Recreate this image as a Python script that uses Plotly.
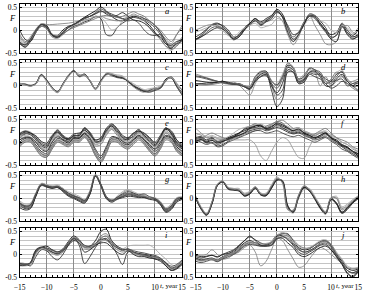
import plotly.graph_objects as go

years = list(range(-15, 16))
x_ticks = [-15, -10, -5, 0, 5, 10, 15]
y_ticks = [-0.5, 0, 0.5]
y_tick_text = ["-0.5", "0", "0.5"]
panel_letters = ["a", "b", "c", "d", "e", "f", "g", "h", "i", "j"]

a_lines = [
    [-0.25,-0.33,-0.2,0.0,0.12,0.1,-0.1,-0.12,0.0,0.08,0.12,0.2,0.28,0.35,0.42,0.5,0.42,0.3,0.22,0.2,0.25,0.3,0.27,0.2,0.1,-0.05,-0.2,-0.35,-0.4,-0.28,-0.2],
    [-0.3,-0.36,-0.22,-0.02,0.1,0.08,-0.12,-0.15,-0.05,0.05,0.1,0.18,0.25,0.3,0.35,0.4,0.38,0.32,0.28,0.25,0.27,0.28,0.25,0.22,0.15,0.05,-0.1,-0.3,-0.38,-0.3,-0.18],
    [-0.15,-0.28,-0.15,0.02,0.14,0.12,0.12,0.13,0.14,0.15,0.17,0.2,0.22,0.25,0.28,0.3,0.25,0.22,0.2,0.22,0.28,0.35,0.3,0.25,0.18,0.1,-0.05,-0.2,-0.3,-0.1,0.1],
    [0.0,-0.2,-0.25,-0.05,0.08,0.05,-0.1,-0.16,-0.08,0.0,0.08,0.12,0.18,0.22,0.3,0.25,-0.1,-0.12,0.05,0.15,0.22,0.28,0.3,0.25,0.2,0.1,-0.05,-0.25,-0.42,-0.35,-0.2],
    [-0.2,-0.3,-0.18,0.0,0.1,0.06,-0.08,-0.12,-0.05,0.05,0.1,0.15,0.2,0.25,0.3,0.28,0.15,0.0,0.05,0.2,0.3,0.32,0.3,0.2,0.05,-0.1,-0.2,-0.35,-0.45,-0.3,-0.15],
    [-0.28,-0.38,-0.25,-0.05,0.12,0.05,-0.12,-0.16,-0.06,0.06,0.12,0.2,0.27,0.3,0.36,0.42,0.35,0.3,0.32,0.38,0.3,0.22,0.2,0.15,0.05,-0.08,-0.15,-0.3,-0.33,-0.25,-0.22],
    [-0.1,-0.25,-0.2,-0.05,0.08,0.02,-0.15,-0.18,-0.1,0.0,0.05,0.1,0.15,0.2,0.25,0.3,0.32,0.3,0.28,0.3,0.35,0.4,0.35,0.3,0.2,0.1,0.0,-0.15,-0.25,-0.1,0.05],
    [-0.3,-0.32,-0.2,0.0,0.12,0.08,-0.1,-0.14,-0.04,0.06,0.12,0.18,0.25,0.3,0.38,0.46,0.4,0.35,0.3,0.25,0.2,0.22,0.15,0.0,-0.1,-0.12,-0.1,-0.25,-0.35,-0.3,-0.25],
]
b_lines = [
    [-0.2,-0.12,0.0,0.12,0.15,0.08,-0.05,-0.18,-0.1,0.05,0.15,0.25,0.12,0.2,0.3,0.45,0.35,0.05,-0.2,-0.1,0.15,0.32,0.3,0.15,0.0,-0.1,-0.05,0.12,-0.05,-0.15,-0.1],
    [-0.22,-0.15,-0.05,0.05,0.08,0.05,-0.05,-0.2,-0.15,0.0,0.12,0.22,0.15,0.22,0.28,0.38,0.3,0.0,-0.15,-0.05,0.18,0.3,0.25,0.1,-0.05,-0.18,-0.1,0.1,-0.08,-0.18,-0.15],
    [0.0,0.05,0.1,0.12,0.1,0.02,-0.1,-0.22,-0.12,0.02,0.1,0.2,0.15,0.18,0.22,0.3,0.2,-0.1,-0.32,-0.15,0.15,0.32,0.1,-0.1,-0.3,-0.32,-0.25,0.05,0.1,-0.05,-0.1],
    [-0.15,-0.08,0.02,0.1,0.13,0.1,0.0,-0.15,-0.12,0.02,0.12,0.2,0.1,0.18,0.25,0.4,0.3,0.1,-0.1,-0.05,0.12,0.35,0.32,0.2,0.05,-0.15,-0.12,0.15,0.0,-0.12,0.0],
    [-0.05,0.0,0.05,0.1,0.05,-0.02,-0.12,-0.15,-0.05,0.05,0.1,0.15,0.05,0.08,0.12,0.25,0.2,0.0,-0.25,-0.1,0.1,0.25,0.28,0.2,0.15,0.0,-0.05,0.1,0.05,-0.08,0.05],
    [-0.2,-0.15,-0.08,0.0,0.05,0.02,-0.08,-0.2,-0.15,0.0,0.15,0.25,0.18,0.25,0.32,0.42,0.28,-0.05,-0.25,-0.1,0.12,0.3,0.28,0.12,-0.02,-0.2,-0.25,0.08,-0.1,-0.2,-0.12],
]
c_lines = [
    [0.05,0.03,0.0,0.05,0.24,0.12,-0.05,-0.14,0.05,0.22,0.32,0.22,0.25,0.1,-0.07,0.1,0.25,0.25,0.2,0.18,0.1,0.0,-0.08,-0.12,-0.1,-0.05,-0.05,0.15,0.18,0.0,-0.15],
    [0.03,0.02,0.0,0.04,0.22,0.13,-0.03,-0.13,0.03,0.2,0.34,0.2,0.23,0.12,-0.06,0.12,0.26,0.22,0.18,0.16,0.12,0.02,-0.05,-0.1,-0.12,-0.08,-0.02,0.12,0.2,0.05,-0.1],
    [0.06,0.04,0.02,0.05,0.23,0.1,-0.06,-0.15,0.02,0.24,0.3,0.25,0.22,0.1,-0.08,0.08,0.28,0.27,0.22,0.2,0.08,-0.02,-0.1,-0.14,-0.08,-0.06,-0.05,0.1,0.2,0.02,-0.18],
    [0.02,0.04,0.0,0.06,0.25,0.12,-0.04,-0.12,0.04,0.22,0.33,0.21,0.26,0.11,-0.05,0.11,0.25,0.24,0.19,0.17,0.1,0.0,-0.06,-0.12,-0.14,-0.1,-0.05,0.12,0.17,-0.02,-0.2],
    [0.04,0.02,-0.01,0.04,0.22,0.1,-0.05,-0.14,0.03,0.21,0.3,0.23,0.24,0.12,-0.06,0.09,0.23,0.26,0.24,0.22,0.12,0.05,-0.02,-0.08,-0.06,-0.04,0.0,0.12,0.18,0.06,-0.08],
]
d_lines = [
    [0.05,0.04,0.03,0.05,0.08,0.1,0.05,0.03,0.05,0.0,-0.05,0.2,0.3,0.32,0.1,0.02,0.2,0.45,0.4,0.15,0.2,0.38,0.35,0.25,0.05,0.1,0.25,0.3,0.1,0.0,-0.1],
    [0.2,0.18,0.15,0.12,0.1,0.08,0.06,0.05,0.03,0.0,-0.02,0.15,0.28,0.3,0.05,-0.05,0.15,0.5,0.4,0.1,0.15,0.4,0.35,0.3,0.1,0.05,0.2,0.32,0.15,0.05,0.05],
    [0.26,0.22,0.18,0.14,0.1,0.06,0.04,0.08,0.02,-0.1,-0.2,0.05,0.22,0.25,0.0,-0.3,-0.2,0.35,0.35,0.05,0.1,0.3,0.28,0.0,0.2,0.0,0.1,0.2,0.1,0.1,0.15],
    [0.05,0.05,0.06,0.07,0.08,0.1,0.08,0.05,0.02,-0.02,-0.08,0.1,0.2,0.25,-0.1,-0.45,-0.3,0.3,0.3,0.05,0.08,0.25,0.2,0.15,0.05,-0.05,0.0,0.1,0.05,0.0,0.1],
    [0.04,0.03,0.02,0.04,0.06,0.08,0.04,0.02,0.04,0.0,-0.04,0.18,0.28,0.3,0.08,0.05,0.25,0.48,0.42,0.12,0.18,0.4,0.32,0.28,0.08,0.05,0.28,0.35,0.12,-0.02,-0.08],
    [0.12,0.1,0.08,0.07,0.08,0.1,0.06,0.04,0.03,-0.02,-0.06,0.12,0.25,0.28,0.0,-0.15,0.05,0.4,0.35,0.08,0.12,0.3,0.32,0.2,0.0,0.0,0.15,0.25,0.1,0.0,0.0],
    [0.03,0.02,0.02,0.03,0.05,0.07,0.05,0.04,0.03,0.0,0.0,0.2,0.32,0.3,0.12,0.0,0.2,0.42,0.35,0.15,0.25,0.35,0.3,0.2,0.05,0.15,0.3,0.22,0.05,-0.05,-0.12],
    [0.22,0.2,0.17,0.13,0.1,0.07,0.05,0.03,0.02,-0.02,-0.05,0.1,0.2,0.22,0.05,-0.2,-0.1,0.35,0.3,0.1,0.15,0.28,0.25,0.25,0.15,0.1,0.12,0.15,0.0,0.05,0.1],
]
e_lines = [
    [0.15,0.22,0.2,0.1,-0.05,-0.08,0.1,0.25,0.12,0.05,0.15,0.15,0.3,0.2,0.0,0.05,0.25,0.35,0.25,0.1,0.05,0.15,0.25,0.15,0.05,-0.05,0.1,0.28,0.2,0.0,-0.1],
    [0.12,0.2,0.18,0.08,-0.02,-0.05,0.08,0.22,0.15,0.08,0.12,0.18,0.28,0.22,0.05,0.08,0.22,0.38,0.28,0.12,0.08,0.12,0.22,0.18,0.08,-0.02,0.08,0.3,0.22,0.05,-0.05],
    [0.2,0.25,0.22,0.12,0.0,-0.1,0.05,0.2,0.1,0.02,0.1,0.12,0.25,0.18,-0.05,0.0,0.2,0.32,0.22,0.08,0.02,0.1,0.2,0.1,0.0,-0.1,0.05,0.25,0.15,-0.05,-0.15],
    [0.08,0.18,0.16,0.05,-0.08,-0.12,0.12,0.27,0.14,0.06,0.14,0.14,0.32,0.18,0.02,0.02,0.28,0.36,0.2,0.05,0.08,0.18,0.28,0.12,0.02,-0.08,0.12,0.32,0.18,-0.02,-0.12],
    [0.1,0.15,0.12,0.02,-0.1,-0.15,0.05,0.18,0.08,0.0,0.08,0.1,0.22,0.15,-0.02,0.0,0.18,0.3,0.2,0.05,0.0,0.08,0.18,0.1,-0.02,-0.12,0.0,0.22,0.12,-0.08,-0.2],
    [0.18,0.24,0.2,0.14,0.02,-0.02,0.15,0.22,0.1,0.08,0.18,0.2,0.26,0.15,0.05,0.1,0.3,0.4,0.3,0.15,0.1,0.2,0.24,0.2,0.1,0.0,0.15,0.3,0.25,0.05,-0.08],
    [0.05,0.12,0.1,0.0,-0.12,-0.18,0.0,0.15,0.05,-0.02,0.05,0.08,0.2,0.1,-0.08,-0.05,0.15,0.28,0.15,0.02,-0.05,0.05,0.15,0.05,-0.08,-0.15,-0.05,0.2,0.1,-0.1,-0.22],
    [-0.05,0.05,0.05,-0.1,-0.25,-0.28,-0.1,0.05,0.0,-0.05,0.05,0.05,0.15,0.0,-0.25,-0.4,-0.2,0.05,0.05,-0.05,-0.1,0.0,0.1,0.0,-0.15,-0.25,-0.1,0.1,0.05,-0.15,-0.25],
    [-0.08,0.02,0.02,-0.12,-0.28,-0.32,-0.12,0.02,-0.03,-0.08,0.02,0.02,0.12,-0.03,-0.28,-0.42,-0.22,0.02,0.02,-0.08,-0.12,-0.02,0.08,-0.02,-0.18,-0.28,-0.12,0.08,0.02,-0.18,-0.28],
    [0.0,0.08,0.08,-0.06,-0.2,-0.25,-0.06,0.08,0.04,-0.02,0.08,0.08,0.18,0.04,-0.2,-0.35,-0.15,0.08,0.08,-0.02,-0.06,0.04,0.12,0.04,-0.1,-0.2,-0.06,0.12,0.08,-0.1,-0.2],
    [-0.1,0.0,0.0,-0.15,-0.3,-0.33,-0.15,0.0,-0.05,-0.1,0.0,0.0,0.1,-0.05,-0.3,-0.44,-0.25,0.0,0.0,-0.1,-0.15,-0.05,0.05,-0.05,-0.2,-0.3,-0.15,0.05,0.0,-0.2,-0.3],
    [-0.02,0.06,0.04,-0.08,-0.22,-0.26,-0.08,0.06,0.02,-0.04,0.06,0.06,0.16,0.02,-0.22,-0.38,-0.18,0.06,0.06,-0.04,-0.08,0.02,0.1,0.02,-0.12,-0.22,-0.08,0.1,0.06,-0.12,-0.22],
    [0.05,0.1,0.1,0.0,-0.15,-0.2,0.0,0.12,0.06,0.02,0.1,0.1,0.2,0.08,-0.15,-0.3,-0.1,0.12,0.1,0.02,-0.02,0.06,0.15,0.06,-0.05,-0.15,0.0,0.15,0.1,-0.05,-0.15],
    [-0.06,0.04,0.03,-0.1,-0.24,-0.3,-0.1,0.04,-0.02,-0.06,0.04,0.04,0.13,-0.02,-0.26,-0.4,-0.2,0.04,0.04,-0.06,-0.1,-0.01,0.09,-0.01,-0.16,-0.26,-0.1,0.09,0.04,-0.16,-0.26],
]
f_lines = [
    [0.1,0.12,0.05,0.1,0.02,0.05,0.1,0.15,0.2,0.25,0.3,0.35,0.38,0.3,0.35,0.4,0.35,0.3,0.25,0.3,0.2,0.15,0.1,0.15,0.2,0.1,0.05,-0.05,-0.1,-0.2,-0.25],
    [0.05,0.08,0.0,0.05,-0.05,0.0,0.08,0.12,0.18,0.3,0.35,0.4,0.35,0.32,0.38,0.45,0.42,0.3,0.22,0.25,0.22,0.18,0.15,0.2,0.22,0.08,0.0,-0.08,-0.15,-0.22,-0.28],
    [0.2,0.15,0.1,0.12,0.08,0.05,0.05,0.1,0.15,0.22,0.28,0.3,0.32,0.28,0.3,0.35,0.3,0.28,0.3,0.32,0.25,0.2,0.12,0.1,0.15,0.15,0.1,0.0,-0.05,-0.15,-0.2],
    [0.0,0.05,-0.02,0.0,-0.08,-0.05,0.02,0.1,0.15,0.2,0.25,0.28,0.3,0.25,0.28,0.32,0.28,0.22,0.18,0.2,0.15,0.1,0.05,0.08,0.12,0.05,-0.02,-0.1,-0.18,-0.25,-0.32],
    [0.15,0.18,0.12,0.15,0.1,0.08,0.12,0.2,0.28,0.32,0.35,0.38,0.4,0.35,0.38,0.42,0.38,0.35,0.28,0.3,0.25,0.2,0.18,0.22,0.25,0.15,0.08,0.0,-0.05,-0.12,-0.2],
    [0.08,0.1,0.02,0.08,0.0,0.02,0.08,0.12,0.15,0.2,0.3,0.32,0.35,0.28,0.3,0.38,0.32,0.25,0.2,0.22,0.18,0.12,0.08,0.12,0.18,0.08,0.02,-0.08,-0.12,-0.2,-0.3],
    [0.12,0.08,0.15,0.2,0.15,0.1,0.05,0.08,0.12,0.18,0.22,0.25,0.28,0.35,0.4,0.45,0.48,0.4,0.3,0.25,0.15,0.12,0.18,0.25,0.3,0.2,0.1,0.05,0.0,-0.1,-0.15],
    [0.05,0.0,-0.05,-0.02,-0.1,-0.08,0.0,0.05,0.1,0.15,0.2,0.25,0.25,0.2,0.22,0.25,0.2,0.15,0.12,0.15,0.1,0.05,0.0,0.05,0.1,0.02,-0.05,-0.15,-0.2,-0.28,-0.35],
    [0.3,0.2,0.1,0.05,0.05,0.05,0.05,0.05,0.05,0.05,0.05,-0.05,-0.3,-0.4,-0.2,0.0,0.1,0.05,-0.15,-0.33,-0.35,-0.1,0.1,0.2,0.12,0.05,0.0,-0.05,-0.15,-0.2,-0.25],
    [0.02,0.06,0.0,0.04,-0.02,0.02,0.06,0.12,0.2,0.28,0.32,0.36,0.36,0.3,0.33,0.42,0.38,0.32,0.25,0.28,0.2,0.15,0.1,0.15,0.2,0.1,0.02,-0.06,-0.12,-0.2,-0.25],
]
g_lines = [
    [-0.1,-0.18,-0.15,0.1,0.32,0.28,0.25,0.27,0.2,0.1,0.05,0.0,-0.05,0.15,0.52,0.3,0.02,-0.05,0.0,0.05,0.1,0.08,0.05,0.05,0.0,0.0,-0.1,-0.25,-0.18,-0.02,0.02],
    [-0.12,-0.2,-0.18,0.08,0.3,0.27,0.24,0.25,0.18,0.08,0.03,-0.02,-0.06,0.12,0.5,0.32,0.05,-0.03,0.02,0.08,0.12,0.1,0.06,0.04,0.01,-0.01,-0.12,-0.27,-0.2,-0.04,0.0],
    [-0.08,-0.15,-0.12,0.12,0.33,0.3,0.26,0.28,0.22,0.12,0.07,0.02,-0.03,0.17,0.53,0.28,0.0,-0.06,0.02,0.12,0.18,0.12,0.06,0.06,0.02,0.0,-0.08,-0.22,-0.15,0.0,0.03],
    [-0.15,-0.22,-0.2,0.05,0.3,0.26,0.23,0.24,0.17,0.07,0.02,-0.04,-0.08,0.1,0.5,0.3,0.04,-0.04,0.0,0.04,0.08,0.06,0.04,0.03,0.0,-0.02,-0.12,-0.28,-0.22,-0.05,0.0],
    [-0.05,-0.12,-0.1,0.12,0.32,0.3,0.28,0.3,0.22,0.15,0.1,0.05,-0.02,0.18,0.52,0.28,0.03,-0.04,0.05,0.15,0.2,0.15,0.1,0.08,0.03,0.02,-0.06,-0.2,-0.12,0.02,0.04],
    [-0.2,-0.25,-0.22,0.05,0.28,0.25,0.22,0.24,0.15,0.05,0.0,-0.06,-0.1,0.1,0.48,0.28,0.0,-0.08,-0.02,0.02,0.05,0.04,0.02,0.02,-0.02,-0.04,-0.14,-0.3,-0.24,-0.08,-0.02],
    [-0.1,-0.17,-0.16,0.1,0.31,0.28,0.25,0.26,0.2,0.1,0.04,0.0,-0.05,0.14,0.51,0.31,0.03,-0.05,0.01,0.06,0.1,0.09,0.05,0.05,0.0,0.0,-0.1,-0.25,-0.18,-0.03,0.01],
    [-0.1,-0.16,-0.14,0.1,0.3,0.28,0.25,0.26,0.2,0.12,0.06,0.02,-0.04,0.14,0.5,0.3,0.02,-0.05,0.03,0.1,0.15,0.12,0.08,0.1,0.04,0.0,-0.09,-0.23,-0.16,0.0,0.02],
]
h_lines = [
    [0.02,-0.22,-0.35,-0.1,0.3,0.37,0.22,0.2,0.18,0.07,0.12,0.24,0.1,0.08,0.25,0.42,0.38,-0.2,-0.28,0.05,0.25,0.18,0.0,-0.2,-0.32,0.0,-0.1,-0.3,-0.2,-0.08,0.03],
    [0.0,-0.24,-0.37,-0.12,0.28,0.36,0.2,0.18,0.16,0.05,0.1,0.22,0.08,0.06,0.22,0.4,0.4,-0.15,-0.3,0.02,0.23,0.16,-0.02,-0.22,-0.34,-0.02,-0.12,-0.32,-0.22,-0.1,0.0],
    [0.04,-0.2,-0.33,-0.08,0.31,0.38,0.24,0.22,0.2,0.1,0.15,0.26,0.12,0.1,0.28,0.45,0.35,-0.25,-0.25,0.08,0.28,0.2,0.02,-0.18,-0.28,0.02,0.02,-0.22,-0.15,-0.05,0.05],
    [0.02,-0.21,-0.34,-0.09,0.3,0.37,0.22,0.19,0.17,0.06,0.11,0.23,0.09,0.07,0.24,0.41,0.37,-0.18,-0.3,0.03,0.24,0.17,0.0,-0.21,-0.33,-0.01,-0.1,-0.3,-0.2,-0.07,0.02],
    [0.06,-0.18,-0.32,-0.06,0.32,0.38,0.25,0.22,0.22,0.12,0.16,0.22,0.12,0.12,0.3,0.47,0.33,-0.22,-0.32,0.0,0.2,0.22,0.05,-0.15,-0.35,0.0,0.05,-0.18,-0.12,-0.02,0.06],
    [0.0,-0.22,-0.36,-0.12,0.28,0.36,0.21,0.19,0.17,0.06,0.1,0.22,0.08,0.06,0.23,0.4,0.38,-0.16,-0.3,0.02,0.24,0.17,0.0,-0.2,-0.32,-0.02,-0.12,-0.32,-0.24,-0.1,0.0],
    [0.03,-0.2,-0.34,-0.08,0.3,0.38,0.23,0.2,0.18,0.08,0.13,0.25,0.1,0.09,0.27,0.43,0.36,-0.22,-0.27,0.06,0.27,0.19,0.02,-0.16,-0.3,0.02,0.0,-0.25,-0.18,-0.05,0.04],
]
i_lines = [
    [-0.2,-0.22,-0.18,0.08,0.15,0.18,0.1,0.05,0.12,0.28,0.4,0.32,0.18,0.18,0.3,0.5,0.55,0.3,0.18,0.12,0.1,0.05,0.02,0.0,-0.02,-0.05,-0.1,-0.18,-0.3,-0.25,-0.15],
    [-0.22,-0.22,-0.2,0.05,0.15,0.1,0.05,0.0,0.08,0.25,0.36,0.3,0.15,0.15,0.2,0.35,0.4,0.25,0.15,0.08,0.12,0.05,0.0,0.0,-0.05,-0.05,-0.1,-0.2,-0.3,-0.28,-0.2],
    [-0.25,-0.25,-0.22,0.02,0.12,0.08,0.02,-0.02,0.05,0.22,0.33,0.28,0.12,0.12,0.18,0.28,0.3,0.2,0.1,0.05,0.08,0.02,-0.02,-0.04,-0.08,-0.08,-0.12,-0.22,-0.33,-0.3,-0.22],
    [-0.2,-0.2,-0.25,-0.05,0.1,0.08,-0.05,-0.12,0.0,0.2,0.35,0.2,-0.2,-0.05,0.15,0.3,0.35,0.2,0.0,-0.22,0.05,0.05,0.0,-0.02,-0.05,-0.1,-0.12,-0.25,-0.35,-0.3,-0.18],
    [-0.18,-0.2,-0.2,0.0,0.12,0.1,0.05,0.02,0.1,0.25,0.38,0.3,0.18,0.16,0.22,0.3,0.3,0.22,0.15,0.12,0.18,0.2,0.2,0.2,0.2,0.12,0.0,-0.1,-0.22,-0.25,-0.15],
    [-0.24,-0.24,-0.18,0.1,0.16,0.12,0.05,0.02,0.08,0.2,0.3,0.25,0.05,0.1,0.2,0.25,0.25,0.15,0.05,0.0,0.08,0.0,-0.05,-0.05,-0.08,-0.1,-0.15,-0.25,-0.35,-0.32,-0.22],
    [-0.22,-0.23,-0.2,0.04,0.14,0.12,0.08,0.04,0.1,0.26,0.36,0.31,0.16,0.15,0.22,0.4,0.45,0.28,0.16,0.1,0.1,0.04,0.0,-0.02,-0.06,-0.06,-0.1,-0.2,-0.3,-0.27,-0.18],
    [-0.2,-0.21,-0.19,0.06,0.15,0.14,0.1,0.06,0.1,0.24,0.34,0.3,0.2,0.18,0.24,0.33,0.32,0.22,0.14,0.1,0.12,0.08,0.05,0.03,0.0,-0.02,-0.08,-0.18,-0.26,-0.22,-0.12],
]
j_lines = [
    [-0.08,-0.12,-0.1,-0.08,-0.12,-0.05,0.0,0.05,0.15,0.25,0.3,0.25,0.2,0.2,0.25,0.4,0.45,0.45,0.3,0.15,0.1,0.12,0.2,0.28,0.3,0.2,0.0,-0.15,-0.3,-0.35,-0.32],
    [-0.1,-0.14,-0.12,-0.1,-0.15,-0.08,-0.02,0.02,0.1,0.2,0.25,0.22,0.18,0.18,0.22,0.38,0.42,0.4,0.25,0.12,0.05,0.08,0.15,0.25,0.28,0.18,-0.02,-0.18,-0.35,-0.4,-0.35],
    [0.0,-0.02,0.0,0.1,0.0,-0.1,-0.08,0.0,0.05,0.15,0.2,0.05,-0.25,-0.15,0.1,0.35,0.3,0.1,-0.1,-0.28,-0.25,-0.1,0.05,0.15,0.1,0.0,-0.1,-0.2,-0.35,-0.42,-0.4],
    [-0.05,-0.08,-0.05,-0.02,-0.05,0.0,0.05,0.1,0.2,0.3,0.38,0.32,0.25,0.22,0.28,0.42,0.4,0.32,0.2,0.05,0.0,0.05,0.12,0.2,0.22,0.1,-0.05,-0.2,-0.4,-0.48,-0.35],
    [-0.12,-0.15,-0.12,-0.1,-0.13,-0.06,0.0,0.04,0.12,0.22,0.28,0.24,0.22,0.24,0.28,0.42,0.48,0.42,0.28,0.18,0.12,0.15,0.22,0.3,0.32,0.22,0.05,-0.1,-0.25,-0.3,-0.28],
    [-0.02,-0.05,-0.04,-0.02,-0.06,0.0,0.02,0.08,0.18,0.3,0.4,0.3,0.2,0.18,0.2,0.35,0.35,0.25,0.15,0.0,-0.05,0.0,0.08,0.15,0.18,0.1,-0.05,-0.22,-0.42,-0.5,-0.38],
    [-0.1,-0.13,-0.11,-0.09,-0.13,-0.07,-0.01,0.03,0.12,0.22,0.26,0.26,0.24,0.22,0.26,0.38,0.46,0.43,0.32,0.2,0.14,0.14,0.2,0.27,0.3,0.22,0.02,-0.12,-0.28,-0.32,-0.3],
    [-0.15,-0.18,-0.15,-0.12,-0.16,-0.1,-0.05,0.0,0.08,0.18,0.22,0.2,0.18,0.2,0.2,0.33,0.38,0.35,0.22,0.1,0.05,0.08,0.15,0.22,0.25,0.15,-0.05,-0.2,-0.35,-0.4,-0.35],
]

panels = [a_lines, b_lines, c_lines, d_lines, e_lines, f_lines, g_lines, h_lines, i_lines, j_lines]

# styling
shades = ["#111111", "#555555", "#888888", "#333333", "#aaaaaa", "#222222", "#777777", "#444444",
          "#999999", "#1a1a1a", "#666666", "#bbbbbb", "#2a2a2a", "#808080"]
W, H = 368, 295
col_x = [(14, 181), (195, 362)]
row_bottom = [53, 110, 167.5, 225, 282]
panel_h = 50
serif = "Liberation Serif"
tick_size = 7.5

fig = go.Figure()
layout = dict(width=W, height=H, margin=dict(l=0, r=0, t=0, b=0),
              paper_bgcolor="white", plot_bgcolor="white", showlegend=False,
              font=dict(family=serif, size=9, color="black"))
annotations = []
for k, lines in enumerate(panels):
    r, c = divmod(k, 2)
    idx = k + 1
    xa = "x" if idx == 1 else f"x{idx}"
    ya = "y" if idx == 1 else f"y{idx}"
    for n, vals in enumerate(lines):
        fig.add_trace(go.Scatter(x=years, y=vals, mode="lines", xaxis=xa, yaxis=ya,
                                 line=dict(color=shades[n % len(shades)], width=0.9, shape="spline", smoothing=1.0),
                                 hoverinfo="skip"))
    x0, x1 = col_x[c]
    b = row_bottom[r]
    xdom = [x0 / W, x1 / W]
    ydom = [1 - b / H, 1 - (b - panel_h) / H]
    xkey = "xaxis" if idx == 1 else f"xaxis{idx}"
    ykey = "yaxis" if idx == 1 else f"yaxis{idx}"
    layout[xkey] = dict(domain=xdom, anchor=ya, range=[-15, 15], tickvals=x_ticks,
                        showticklabels=(r == 4), ticks="inside", ticklen=3, tickcolor="black",
                        ticklabelstandoff=3,
                        showgrid=True, gridcolor="#8c8c8c", gridwidth=0.8, zeroline=False,
                        showline=True, linecolor="black", linewidth=1, mirror="ticks",
                        minor=dict(dtick=1, ticks="inside", ticklen=2, tickcolor="black", showgrid=False),
                        tickfont=dict(family=serif, size=tick_size))
    layout[ykey] = dict(domain=ydom, anchor=xa, range=[-0.5, 0.57], tickvals=y_ticks, ticktext=y_tick_text,
                        ticks="inside", ticklen=2, tickcolor="black",
                        showgrid=True, gridcolor="#c4c4c4", gridwidth=0.8, zeroline=False,
                        showline=True, linecolor="black", linewidth=1, mirror="ticks",
                        minor=dict(dtick=0.1, showgrid=True, gridcolor="#c4c4c4", gridwidth=0.8),
                        tickfont=dict(family=serif, size=tick_size))
    annotations.append(dict(x=12.2, y=0.42, xref=xa, yref=ya, text=f"<i>{panel_letters[k]}</i>",
                            showarrow=False, font=dict(family=serif, size=8.5)))
    annotations.append(dict(x=-0.045, y=0.27, xref=f"{xa} domain", yref=ya, text="<i>F</i>",
                            showarrow=False, xanchor="center", font=dict(family=serif, size=8.5)))
    if r == 4:
        annotations.append(dict(x=12.5, y=-0.5, xref=xa, yref=ya, text="<i>t</i>, year", showarrow=False,
                                yanchor="top", yshift=-3, font=dict(family=serif, size=7)))
layout["annotations"] = annotations
fig.update_layout(**layout)
fig.write_html("out.html")
